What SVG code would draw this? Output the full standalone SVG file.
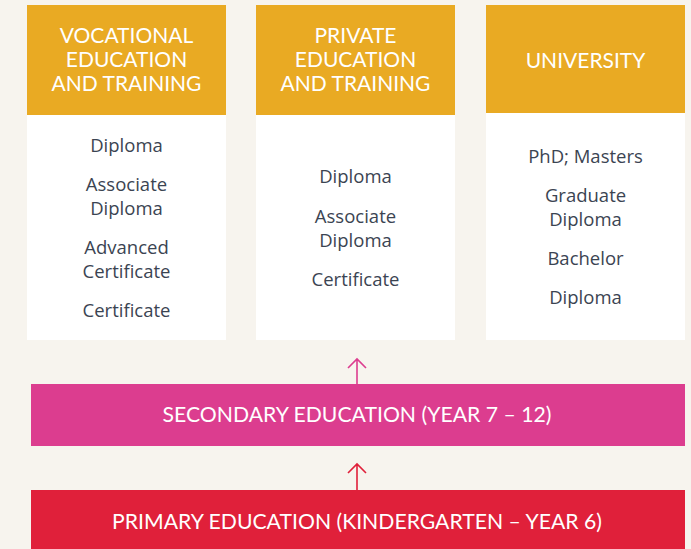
<svg xmlns="http://www.w3.org/2000/svg" width="691" height="549" viewBox="0 0 691 549">
<style>
.hd{fill:#e9aa23}
.bd{fill:#ffffff}
.ht{font-family:Lato,"Open Sans",sans-serif;font-size:21px;fill:#ffffff;text-anchor:middle}
.bt{font-family:"Open Sans",Lato,sans-serif;font-size:18.5px;fill:#3b4452;text-anchor:middle}
.bar{font-family:Lato,"Open Sans",sans-serif;font-size:21.2px;fill:#ffffff;text-anchor:middle}
</style>
<rect width="691" height="549" fill="#f7f4ee"/>
<g id="vet">
<rect class="hd" x="27" y="5" width="199" height="110"/>
<rect class="bd" x="27" y="115" width="199" height="225"/>
<text class="ht" x="126.5" y="43">VOCATIONAL</text>
<text class="ht" x="126.5" y="67">EDUCATION</text>
<text class="ht" x="126.5" y="91">AND TRAINING</text>
<text class="bt" x="126.5" y="152">Diploma</text>
<text class="bt" x="126.5" y="191">Associate</text>
<text class="bt" x="126.5" y="215">Diploma</text>
<text class="bt" x="126.5" y="254">Advanced</text>
<text class="bt" x="126.5" y="278">Certificate</text>
<text class="bt" x="126.5" y="317">Certificate</text>
</g>
<g id="private">
<rect class="hd" x="256" y="5" width="199" height="110"/>
<rect class="bd" x="256" y="115" width="199" height="225"/>
<text class="ht" x="355.5" y="43">PRIVATE</text>
<text class="ht" x="355.5" y="67">EDUCATION</text>
<text class="ht" x="355.5" y="91">AND TRAINING</text>
<text class="bt" x="355.5" y="183">Diploma</text>
<text class="bt" x="355.5" y="223">Associate</text>
<text class="bt" x="355.5" y="247">Diploma</text>
<text class="bt" x="355.5" y="286">Certificate</text>
</g>
<g id="university">
<rect class="hd" x="486" y="5" width="199" height="108"/>
<rect class="bd" x="486" y="113" width="199" height="227"/>
<text class="ht" x="585.5" y="68">UNIVERSITY</text>
<text class="bt" x="585.5" y="163">PhD; Masters</text>
<text class="bt" x="585.5" y="202">Graduate</text>
<text class="bt" x="585.5" y="226">Diploma</text>
<text class="bt" x="585.5" y="265">Bachelor</text>
<text class="bt" x="585.5" y="304">Diploma</text>
</g>
<g id="secondary">
<rect x="31" y="384" width="654" height="62" fill="#dc3d8f"/>
<text class="bar" x="357" y="422">SECONDARY EDUCATION (YEAR 7 – 12)</text>
</g>
<g id="primary">
<rect x="31" y="490" width="654" height="59" fill="#e0203a"/>
<text class="bar" x="357" y="529">PRIMARY EDUCATION (KINDERGARTEN – YEAR 6)</text>
</g>
<g id="connectors" fill="none" stroke-width="1.6">
<path d="M357 384V359M348 368L357 359L366 368" stroke="#dc3d8f"/>
<path d="M357 490V464M348 473L357 464L366 473" stroke="#e0203a"/>
</g>
</svg>
